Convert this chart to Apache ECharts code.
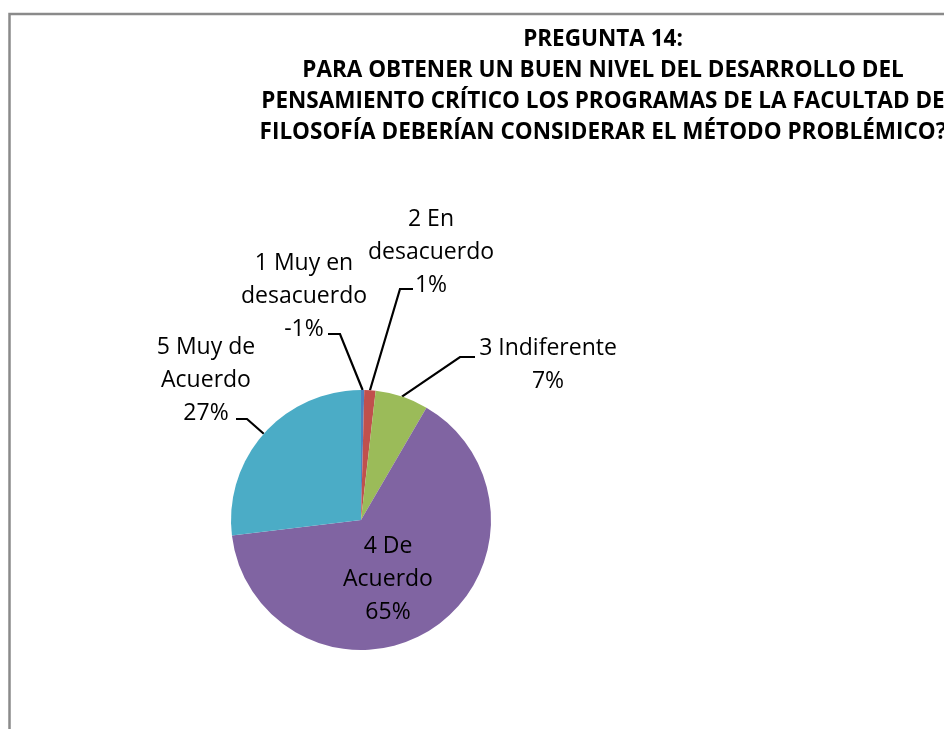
<!DOCTYPE html>
<html>
<head>
<meta charset="utf-8">
<script src="https://cdn.jsdelivr.net/npm/echarts@6/dist/echarts.min.js"></script>
<style>
  html, body { margin: 0; padding: 0; background: #fff; }
  #chart { width: 944px; height: 729px; }
</style>
</head>
<body>
<div id="chart"></div>
<script>
// categories and values
const categories = ['1 Muy en\ndesacuerdo', '2 En\ndesacuerdo', '3 Indiferente', '4 De\nAcuerdo', '5 Muy de\nAcuerdo'];
const values = [0.4, 1.4, 6.6, 64.7, 26.9];
const pctLabels = ['-1%', '1%', '7%', '65%', '27%'];
const colors = ['#4F81BD', '#C0504D', '#9BBB59', '#8064A2', '#4BACC6'];

const titleLines = [
  'PREGUNTA 14:',
  'PARA OBTENER UN BUEN NIVEL DEL DESARROLLO DEL',
  'PENSAMIENTO CRÍTICO LOS PROGRAMAS DE LA FACULTAD DE',
  'FILOSOFÍA DEBERÍAN CONSIDERAR EL MÉTODO PROBLÉMICO?'
];

// pie geometry (px)
const CX = 361, CY = 520, R = 130;

// label block centres, relative to the pie centre
const labelAt = [[-57, -224], [70, -268], [187, -155], [27, 59], [-155, -140]];
// leader elbow + end, relative to the pie centre (null = inside label)
const leaders = [
  [[-21, -186], [-33, -186]],
  [[39, -231], [52, -231]],
  [[99, -163], [114, -163]],
  null,
  [[-114, -101], [-125, -101]]
];

const chart = echarts.init(document.getElementById('chart'));

const option = {
  backgroundColor: '#fff',
  animation: false,
  title: {
    text: titleLines.join('\n'),
    left: 603,
    top: 24,
    textAlign: 'center',
    padding: 0,
    textStyle: {
      fontFamily: 'Open Sans',
      fontWeight: 'bold',
      fontSize: 22.5,
      lineHeight: 31,
      color: '#000',
      align: 'center'
    }
  },
  graphic: [{
    type: 'polyline',
    silent: true,
    shape: { points: [[9.5, 729], [9.5, 14], [944, 14]] },
    style: { stroke: '#8a8a8a', lineWidth: 2.5, fill: null }
  }],
  series: [{
    type: 'pie',
    center: [CX, CY],
    radius: R,
    startAngle: 90,
    clockwise: true,
    avoidLabelOverlap: false,
    itemStyle: { borderWidth: 0 },
    emphasis: { disabled: true },
    label: {
      show: true,
      position: 'outside',
      fontFamily: 'Open Sans',
      fontSize: 23,
      lineHeight: 33,
      color: '#000',
      formatter: p => p.name + '\n' + pctLabels[p.dataIndex]
    },
    labelLine: {
      show: true,
      length: 20,
      length2: 10,
      lineStyle: { color: '#000', width: 2.2 }
    },
    labelLayout: function (params) {
      const i = params.dataIndex;
      const out = {
        x: CX + labelAt[i][0],
        y: CY + labelAt[i][1],
        align: 'center',
        verticalAlign: 'middle'
      };
      const ld = leaders[i];
      if (ld && params.labelLinePoints) {
        out.labelLinePoints = [
          params.labelLinePoints[0],
          [CX + ld[0][0], CY + ld[0][1]],
          [CX + ld[1][0], CY + ld[1][1]]
        ];
      }
      return out;
    },
    data: categories.map((c, i) => {
      const d = { name: c, value: values[i], itemStyle: { color: colors[i] } };
      if (!leaders[i]) {
        d.label = { position: 'inside' };
        d.labelLine = { show: false };
      }
      return d;
    })
  }]
};

chart.setOption(option);
</script>
</body>
</html>
